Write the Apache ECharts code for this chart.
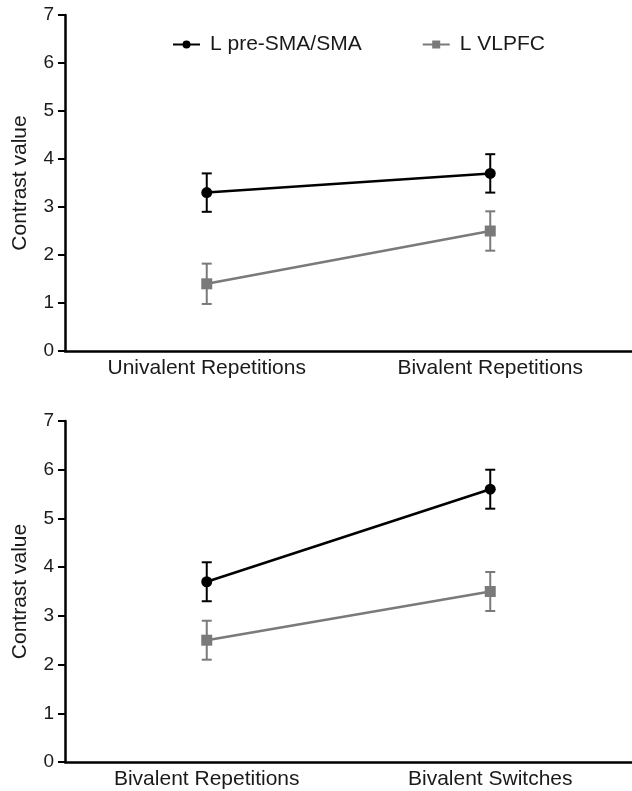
<!DOCTYPE html>
<html>
<head>
<meta charset="utf-8">
<script src="https://cdn.jsdelivr.net/npm/echarts@6/dist/echarts.min.js"></script>
<style>
  html, body { margin: 0; padding: 0; background: #fff; }
  #chart { width: 632px; height: 791px; }
</style>
</head>
<body>
<div id="chart"></div>
<script>
// top panel
const topCategories = ['Univalent Repetitions', 'Bivalent Repetitions'];
const topSma = [3.3, 3.7];
const topSmaErr = [0.4, 0.4];
const topVlpfc = [1.4, 2.5];
const topVlpfcErr = [0.42, 0.41];

// bottom panel
const bottomCategories = ['Bivalent Repetitions', 'Bivalent Switches'];
const bottomSma = [3.7, 5.6];
const bottomSmaErr = [0.4, 0.4];
const bottomVlpfc = [2.5, 3.5];
const bottomVlpfcErr = [0.4, 0.4];

const yTicks = [0, 1, 2, 3, 4, 5, 6, 7];

const BLACK = '#000';
const GREY = '#7a7a7a';
const TEXT = '#1a1a1a';
const FONT = 'Liberation Sans';

function errorData(vals, errs) {
  return vals.map((v, i) => [i, v - errs[i], v + errs[i]]);
}

function errorSeries(idx, vals, errs, color) {
  return {
    type: 'custom',
    xAxisIndex: idx,
    yAxisIndex: idx,
    silent: true,
    z: 1,
    data: errorData(vals, errs),
    renderItem: function (params, api) {
      const lo = api.coord([api.value(0), api.value(1)]);
      const hi = api.coord([api.value(0), api.value(2)]);
      const w = 5;
      const style = { stroke: color, lineWidth: 2 };
      return {
        type: 'group',
        children: [
          { type: 'line', shape: { x1: lo[0], y1: lo[1], x2: hi[0], y2: hi[1] }, style: style },
          { type: 'line', shape: { x1: hi[0] - w, y1: hi[1], x2: hi[0] + w, y2: hi[1] }, style: style },
          { type: 'line', shape: { x1: lo[0] - w, y1: lo[1], x2: lo[0] + w, y2: lo[1] }, style: style }
        ]
      };
    }
  };
}

function lineSeries(idx, name, vals, color, symbol, size) {
  return {
    name: name,
    type: 'line',
    xAxisIndex: idx,
    yAxisIndex: idx,
    data: vals,
    symbol: symbol,
    symbolSize: size,
    z: 3,
    lineStyle: { color: color, width: 2.5 },
    itemStyle: { color: color },
    emphasis: { disabled: true }
  };
}

function xAxis(idx, cats) {
  return {
    type: 'category',
    gridIndex: idx,
    data: cats,
    boundaryGap: true,
    axisLine: { lineStyle: { color: BLACK, width: 2.5 } },
    axisTick: { show: false },
    axisLabel: { color: TEXT, fontSize: 21, fontFamily: FONT, margin: 7 }
  };
}

function yAxis(idx) {
  return {
    type: 'value',
    gridIndex: idx,
    min: yTicks[0],
    max: yTicks[yTicks.length - 1],
    interval: 1,
    name: 'Contrast value',
    nameLocation: 'middle',
    nameGap: 34,
    nameTextStyle: { color: TEXT, fontSize: 21, fontFamily: FONT },
    splitLine: { show: false },
    axisLine: { show: true, lineStyle: { color: BLACK, width: 2.5 } },
    axisTick: { show: true, length: 7, lineStyle: { color: BLACK, width: 2 } },
    axisLabel: { color: TEXT, fontSize: 19, fontFamily: FONT, margin: 11 }
  };
}

const chart = echarts.init(document.getElementById('chart'));
chart.setOption({
  animation: false,
  backgroundColor: '#fff',
  legend: {
    top: 29,
    left: 167,
    itemGap: 60,
    itemWidth: 27,
    itemHeight: 10,
    textStyle: { color: TEXT, fontSize: 21, fontFamily: FONT, padding: [0, 0, 0, 5] },
    data: ['L pre-SMA/SMA', 'L VLPFC']
  },
  grid: [
    { left: 65, right: 0, top: 15, height: 336 },
    { left: 65, right: 0, top: 421, height: 341 }
  ],
  xAxis: [xAxis(0, topCategories), xAxis(1, bottomCategories)],
  yAxis: [yAxis(0), yAxis(1)],
  series: [
    errorSeries(0, topSma, topSmaErr, BLACK),
    errorSeries(0, topVlpfc, topVlpfcErr, GREY),
    lineSeries(0, 'L pre-SMA/SMA', topSma, BLACK, 'circle', 11),
    lineSeries(0, 'L VLPFC', topVlpfc, GREY, 'rect', 11),
    errorSeries(1, bottomSma, bottomSmaErr, BLACK),
    errorSeries(1, bottomVlpfc, bottomVlpfcErr, GREY),
    lineSeries(1, 'L pre-SMA/SMA', bottomSma, BLACK, 'circle', 11),
    lineSeries(1, 'L VLPFC', bottomVlpfc, GREY, 'rect', 11)
  ]
});
</script>
</body>
</html>
